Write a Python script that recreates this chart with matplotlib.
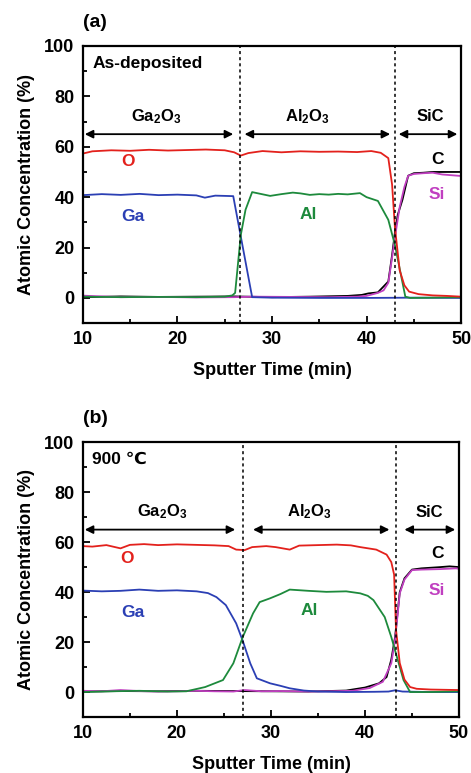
import matplotlib
matplotlib.use("Agg")
import matplotlib.pyplot as plt
from matplotlib.ticker import MultipleLocator

plt.rcParams["font.family"] = ["Liberation Sans", "DejaVu Sans"]
plt.rcParams["font.weight"] = "bold"
plt.rcParams["axes.labelweight"] = "bold"
plt.rcParams["mathtext.fontset"] = "custom"
plt.rcParams["mathtext.rm"] = "Liberation Sans:bold"
plt.rcParams["mathtext.bf"] = "Liberation Sans:bold"
plt.rcParams["mathtext.default"] = "rm"

# ---- panel (a): as-deposited -------------------------------------------------
a_t_O = [10, 11, 13, 15, 17, 19, 21, 23, 25, 26, 26.7, 27.5, 29, 31, 33, 35, 37,
         39, 40.5, 41.5, 42.3, 42.7, 43.0, 43.5, 44.0, 44.5, 45.5, 47, 48.5, 50]
a_O = [57.3, 58.2, 58.6, 58.4, 58.8, 58.5, 58.7, 58.9, 58.6, 57.8, 56.5, 57.5,
       58.3, 57.8, 58.2, 58.0, 58.1, 57.9, 58.3, 57.6, 55.5, 45, 28, 11, 5, 2.5,
       1.5, 1.0, 0.8, 0.5]
a_t_Ga = [10, 12, 14, 16, 18, 20, 22, 22.9, 24, 25, 25.9, 27.9, 30, 35, 40, 45, 50]
a_Ga = [40.8, 41.2, 40.9, 41.3, 40.8, 41.0, 40.7, 39.8, 40.6, 40.5, 40.4, 0.3,
        0.1, 0.0, 0.0, 0.1, 0.0]
a_t_Al = [10, 14, 18, 22, 25, 25.8, 26.1, 26.7, 27.2, 27.9, 29.8, 31, 32.2, 33,
          34, 35, 36, 37, 38, 39.3, 40.0, 41.2, 42.3, 43.0, 44.1, 44.6, 47, 50]
a_Al = [0.5, 0.3, 0.4, 0.3, 0.5, 1.0, 2.0, 25, 35, 42, 40.5, 41.2, 41.8, 41.5,
        40.9, 41.2, 41.0, 41.3, 41.1, 41.6, 40.0, 38.5, 31, 21, 0.5, 0.0, 0.1, 0.3]
a_t_Si = [10, 14, 18, 22, 26, 28, 32, 36, 39, 40, 41.2, 41.8, 42.3, 42.7, 43.0,
          43.5, 44.0, 44.4, 45, 46, 47, 48, 50]
a_Si = [0.9, 0.3, 0.4, 0.2, 0.3, 0.5, 0.4, 0.3, 0.5, 0.8, 2, 3, 6, 16, 24, 36,
        44, 48.5, 49.2, 49.5, 49.7, 49.0, 48.4]
a_t_C = [10, 14, 18, 22, 26, 30, 34, 38, 39.5, 40.2, 41.2, 42.3, 42.7, 43.0,
         43.3, 43.8, 44.4, 45, 46, 47, 48, 50]
a_C = [0.3, 0.6, 0.4, 0.5, 0.6, 0.3, 0.5, 0.8, 1.2, 1.8, 2.2, 6.5, 17, 26, 33,
       39, 48.5, 49.5, 49.7, 50.0, 50.0, 50.0]

# ---- panel (b): 900 C anneal ------------------------------------------------
b_t_O = [10, 11, 12.5, 14.0, 15, 16.5, 18, 20, 22, 24, 25.5, 26.3, 27.2, 28,
         29.5, 30.5, 32.0, 33, 35, 37, 38.5, 39.5, 41.2, 42.3, 42.8, 43.1, 43.3,
         43.7, 44.2, 44.8, 45.5, 47, 50]
b_O = [58.4, 58.2, 58.8, 57.5, 58.9, 59.2, 58.8, 59.1, 58.9, 58.7, 58.4, 57.0,
       56.8, 58.0, 58.4, 58.0, 57.0, 58.6, 58.8, 59.0, 58.7, 58.0, 57.0, 55.0,
       52, 47, 25, 11.6, 5, 2, 1.3, 1.0, 0.8]
b_t_Ga = [10, 12, 14, 16, 18, 20, 22.1, 23.3, 24.2, 25.2, 26.3, 27.0, 27.8, 28.5,
          29.9, 31, 32, 33.5, 35, 38, 41, 42.5, 43.2, 44, 47, 50]
b_Ga = [40.6, 40.3, 40.5, 41.0, 40.5, 40.7, 40.3, 39.6, 38, 34.8, 27.5, 20.5,
        11.5, 5.5, 3.5, 2.5, 1.5, 0.6, 0.2, 0.0, 0.1, 0.2, 0.7, 0.2, 0.0, 0.0]
b_t_Al = [10, 13, 16, 19, 21, 23, 24.9, 26, 27, 28.1, 28.8, 29.9, 31, 32, 34,
          35.9, 38, 39.5, 40.3, 40.9, 42.1, 42.8, 43.4, 44.1, 44.8, 47, 50]
b_Al = [0.0, 0.3, 0.5, 0.2, 0.3, 2.0, 4.8, 11.5, 22, 31.5, 36, 37.5, 39.2, 41,
        40.5, 40.1, 40.3, 39.5, 38.5, 36.8, 30, 22, 14, 4.8, 0.0, 0.0, 0.3]
b_t_Si = [10, 12, 14, 16, 18, 20, 22, 24, 26, 27.2, 29, 31, 34, 36, 38.7, 40.5,
          41.9, 42.8, 43.2, 43.7, 44.2, 45, 46, 48, 49.7, 50]
b_Si = [0.5, 0.3, 0.8, 0.4, 0.2, 0.3, 0.5, 0.3, 0.2, 0.8, 0.3, 0.4, 0.2, 0.3,
        0.5, 1.6, 4.1, 11.5, 20.8, 39.5, 45, 48.8, 49.0, 49.2, 49.5, 49.3]
b_t_C = [10, 14, 18, 22, 26, 30, 34, 38, 40, 41.5, 42.3, 42.8, 43.2, 43.7, 44.2,
         45, 46, 48, 49, 50]
b_C = [0.2, 0.4, 0.3, 0.5, 0.4, 0.3, 0.2, 0.6, 1.8, 3.5, 6, 13, 22, 40, 45.5,
       49.0, 49.5, 50.0, 50.3, 50.0]

# interfaces (min) and layer names
a_interfaces = [26.6, 43.0]
b_interfaces = [27.0, 43.3]
layers = ["Ga$_2$O$_3$", "Al$_2$O$_3$", "SiC"]

COLORS = {"O": "#e3211c", "Ga": "#2b3fb4", "Al": "#1d8a3c",
          "Si": "#c03fc0", "C": "black"}

fig = plt.figure(figsize=(4.71, 7.73), dpi=100)
ax_a = fig.add_axes([0.176, 0.582, 0.803, 0.3585])
ax_b = fig.add_axes([0.176, 0.0724, 0.7985, 0.3556])


def draw_panel(ax, series, interfaces, arrows, layer_pos, elem_pos, tag, cond):
    for name, (t, y) in series.items():
        ax.plot(t, y, color=COLORS[name], lw=1.3)
    for x in interfaces:
        ax.axvline(x, color="black", ls=(0, (2, 2)), lw=1.1)
    for (x0, x1), name, xl in zip(arrows, layers, layer_pos):
        ax.annotate("", xy=(x0, 65), xytext=(x1, 65),
                    arrowprops=dict(arrowstyle="<|-|>", color="black", lw=1.3,
                                    mutation_scale=12, shrinkA=0, shrinkB=0))
        ax.text(xl, 72, name, ha="center", va="center", fontsize=12)
    for name, (x, y) in elem_pos.items():
        ax.text(x, y, name, color=COLORS[name], ha="center", va="center",
                fontsize=12.5)
    ax.text(11.0, 93, cond, ha="left", va="center", fontsize=12.5)
    ax.text(0.0, 1.085, tag, transform=ax.transAxes, fontsize=14,
            ha="left", va="center")

    ax.set_xlim(10, 50)
    ax.set_ylim(-10, 100)
    ax.xaxis.set_major_locator(MultipleLocator(10))
    ax.xaxis.set_minor_locator(MultipleLocator(5))
    ax.yaxis.set_major_locator(MultipleLocator(20))
    ax.yaxis.set_minor_locator(MultipleLocator(10))
    ax.set_yticks([0, 20, 40, 60, 80, 100])
    ax.tick_params(which="both", direction="in", width=1.3, labelsize=13)
    ax.tick_params(which="major", length=5, pad=6)
    ax.tick_params(which="minor", length=3)
    ax.tick_params(top=False, right=False, which="both")
    for s in ax.spines.values():
        s.set_linewidth(1.6)
    ax.set_xlabel("Sputter Time (min)", fontsize=13, labelpad=10)
    ax.set_ylabel("Atomic Concentration (%)", fontsize=13, labelpad=7)


draw_panel(ax_a,
           {"C": (a_t_C, a_C), "Si": (a_t_Si, a_Si), "Ga": (a_t_Ga, a_Ga),
            "Al": (a_t_Al, a_Al), "O": (a_t_O, a_O)},
           a_interfaces,
           [(10.2, 25.9), (27.1, 42.5), (43.4, 49.6)],
           [17.8, 33.7, 46.7],
           {"O": (14.8, 54), "Ga": (15.3, 32.5), "Al": (33.8, 33.3),
            "C": (47.5, 55), "Si": (47.4, 41)},
           "(a)", "As-deposited")

draw_panel(ax_b,
           {"C": (b_t_C, b_C), "Si": (b_t_Si, b_Si), "Ga": (b_t_Ga, b_Ga),
            "Al": (b_t_Al, b_Al), "O": (b_t_O, b_O)},
           b_interfaces,
           [(10.2, 26.2), (28.1, 42.6), (44.2, 49.6)],
           [18.4, 34.1, 46.8],
           {"O": (14.7, 53.6), "Ga": (15.3, 32), "Al": (34.1, 32.8),
            "C": (47.7, 55.6), "Si": (47.6, 40.8)},
           "(b)", "900 \u2103")

fig.savefig("out.png", dpi=100)
